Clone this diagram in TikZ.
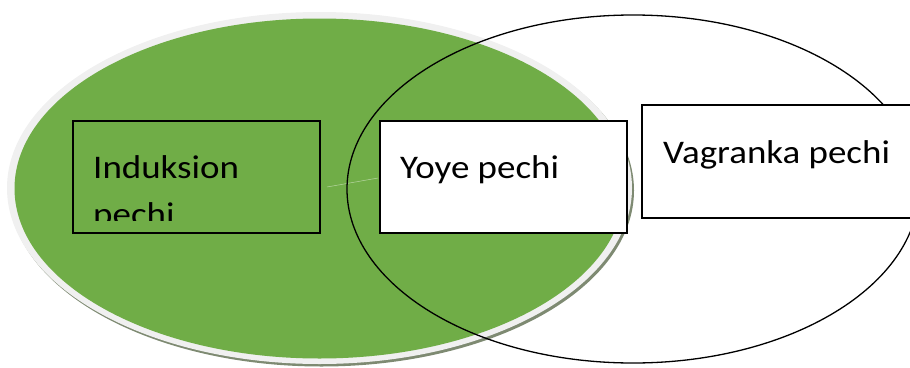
\documentclass[tikz,border=0pt]{standalone}
\usepackage{fontspec}
\setmainfont{Carlito}
\definecolor{vgreen}{HTML}{70AD47}
\definecolor{ringc}{HTML}{F0F0F0}
\definecolor{shadowc}{HTML}{7E8A72}
\tikzset{
  boxst/.style={draw=black, line width=1.6pt, anchor=north west, inner sep=0pt},
  lbl/.style={anchor=base west, inner sep=0pt, font=\fontsize{33}{40}\selectfont},
}
\newcommand{\wtxt}[1]{\scalebox{1.12}[1.0]{#1}}
\begin{document}
\begin{tikzpicture}[x=1pt,y=-1pt]
\useasboundingbox (0,0) rectangle (910,367);
\clip (0,0) rectangle (910,367);
% green set with ring and shadow
\fill[shadowc] (321.5,190.5) ellipse [x radius=312.5, y radius=176];
\fill[ringc] (319.5,188) ellipse [x radius=312.5, y radius=176];
\fill[vgreen] (319.5,188.5) ellipse [x radius=305, y radius=170];
\draw[white!50!vgreen, line width=0.5pt] (327,187) -- (378,178);
% white set outline
\draw[black, line width=1.3pt] (633,189) ellipse [x radius=286, y radius=174];
% boxes
\node[boxst, minimum width=247pt, minimum height=112pt] (ind) at (72,120) {};
\node[boxst, fill=white, minimum width=247pt, minimum height=112pt] (yoye) at (379,120) {};
\node[boxst, fill=white, minimum width=290pt, minimum height=113pt] (vag) at (641,104) {};
% texts
\node[lbl] (indt) at (93,178) {\wtxt{Induksion}};
\begin{scope}
  \clip (74,122) rectangle (317,220);
  \node[lbl] (indp) at (93,225) {\wtxt{pechi}};
\end{scope}
\node[lbl] (yoyet) at (400,178) {\wtxt{Yoye pechi}};
\node[lbl] (vagt) at (663,163) {\wtxt{Vagranka pechi}};
\end{tikzpicture}
\end{document}
